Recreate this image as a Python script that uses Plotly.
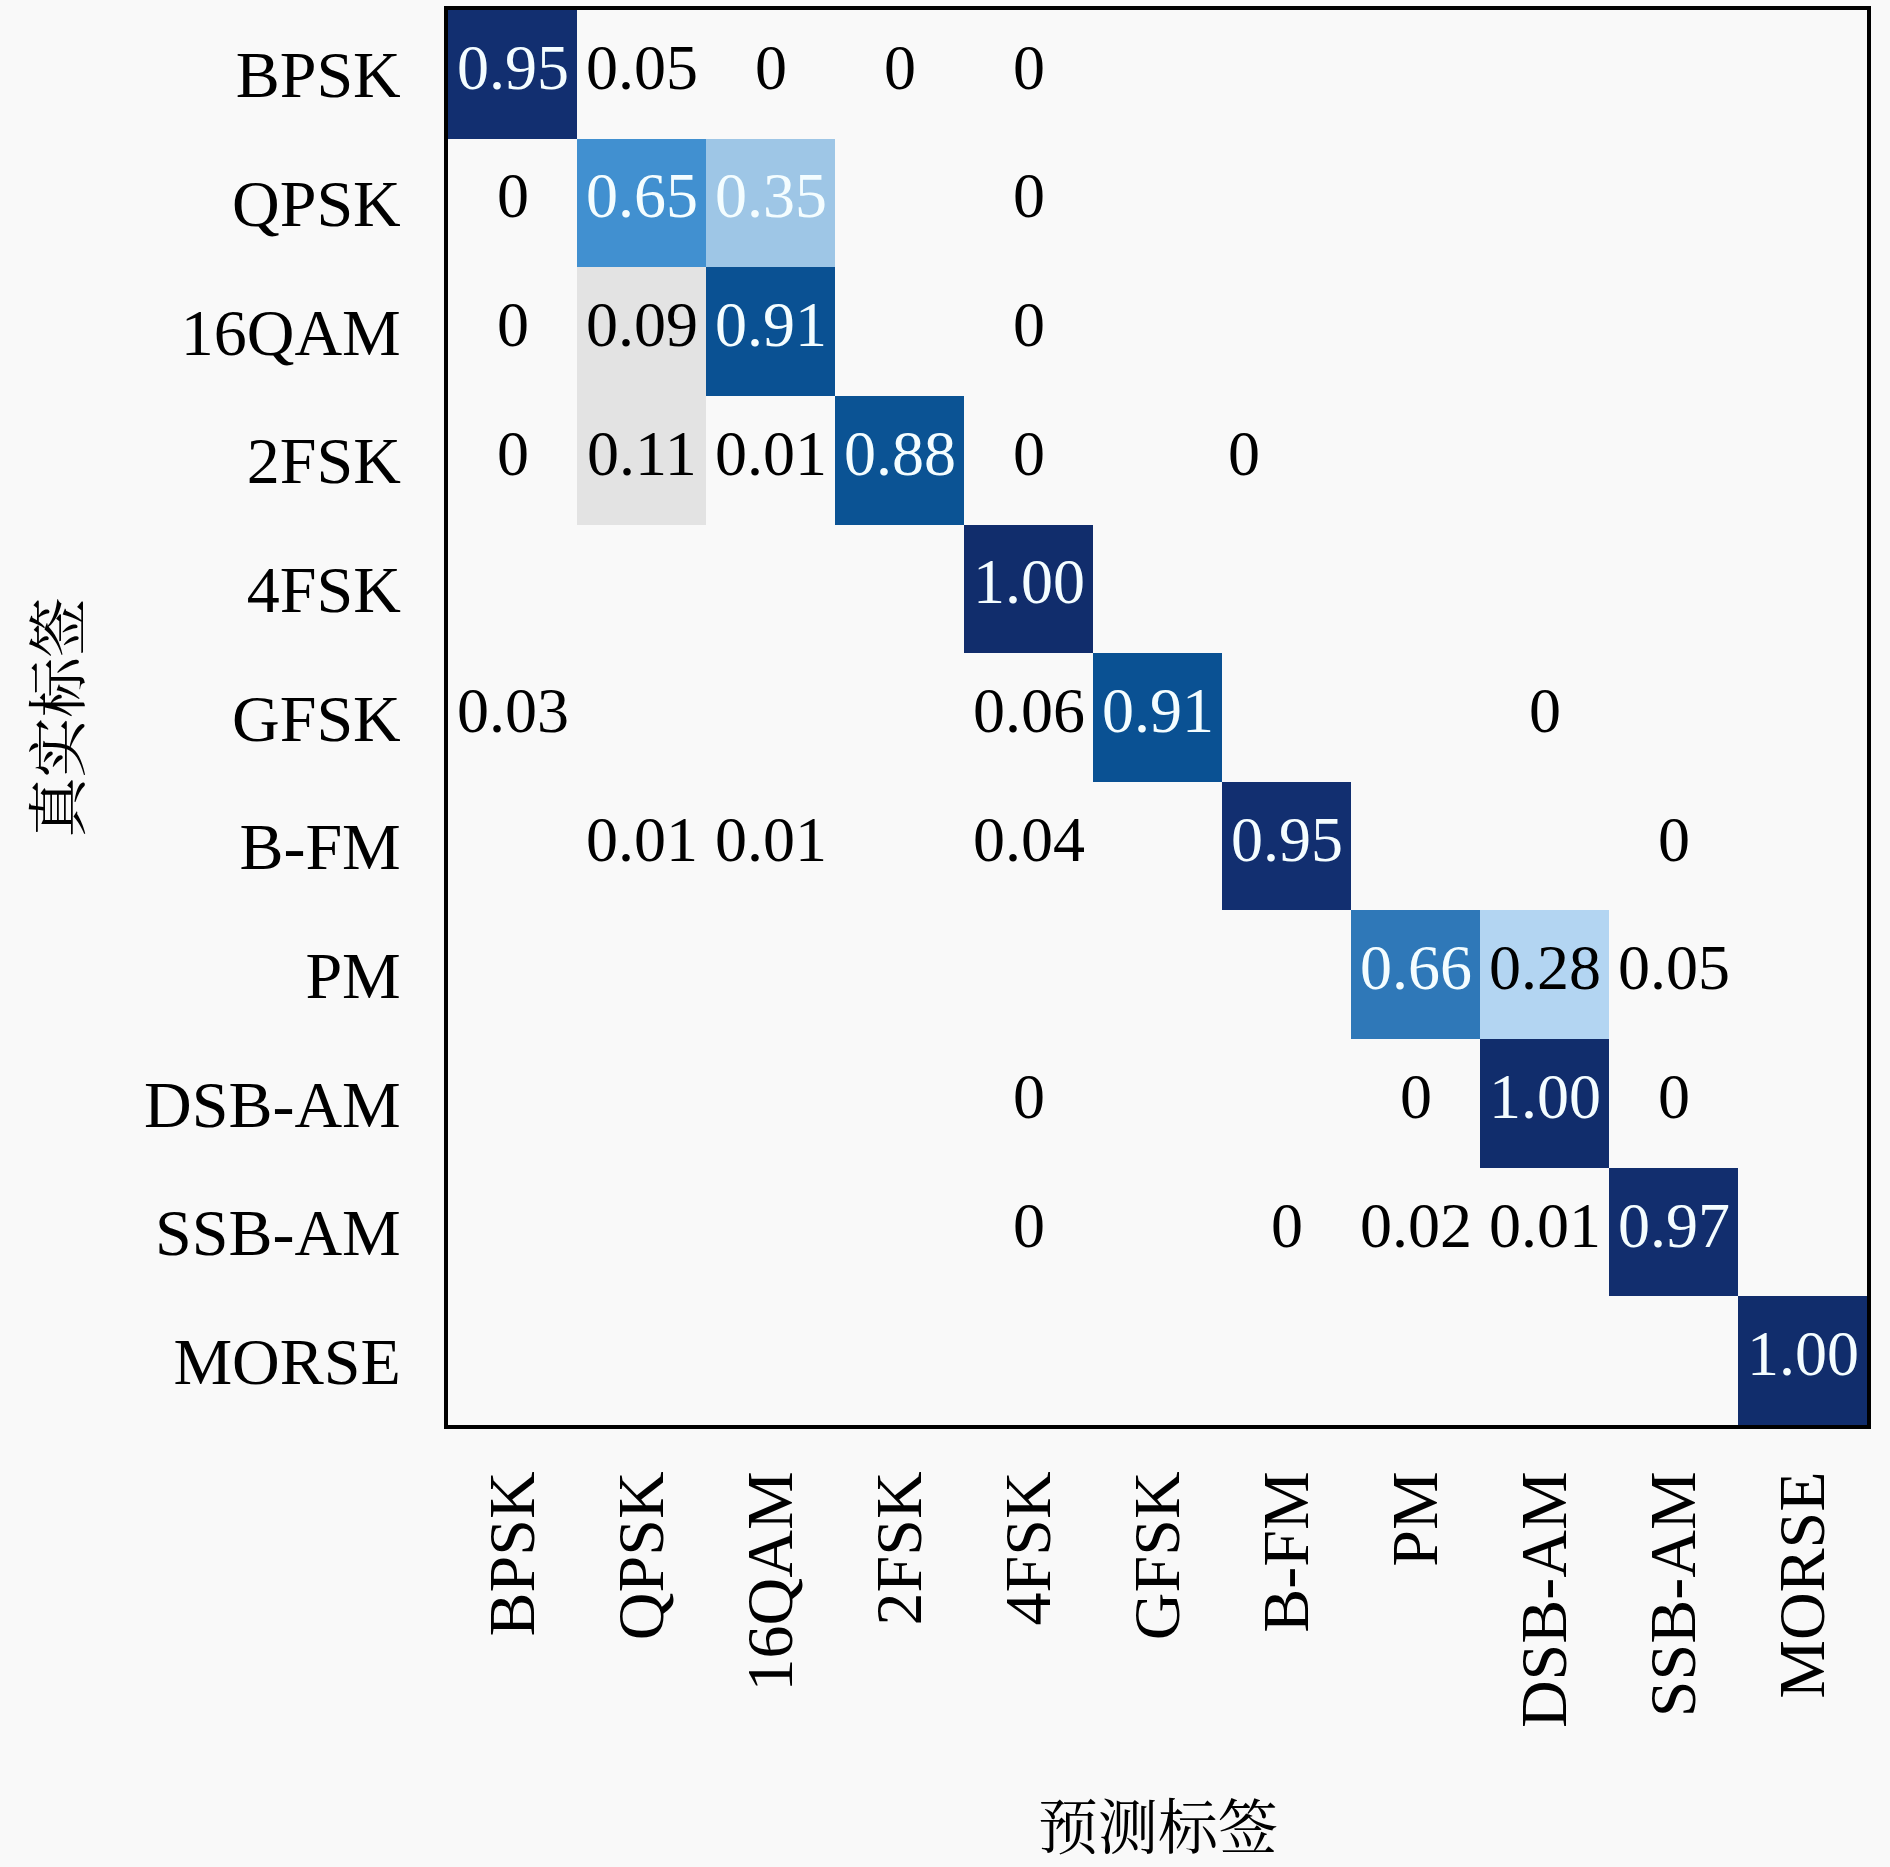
import plotly.graph_objects as go

labels = ["BPSK", "QPSK", "16QAM", "2FSK", "4FSK", "GFSK",
          "B-FM", "PM", "DSB-AM", "SSB-AM", "MORSE"]

# rows = true label, cols = predicted label; None = empty cell
N = None
conf = [
    [0.95, 0.05, 0,    0,    0,    N,    N,    N,    N,    N,    N],
    [0,    0.65, 0.35, N,    0,    N,    N,    N,    N,    N,    N],
    [0,    0.09, 0.91, N,    0,    N,    N,    N,    N,    N,    N],
    [0,    0.11, 0.01, 0.88, 0,    N,    0,    N,    N,    N,    N],
    [N,    N,    N,    N,    1.00, N,    N,    N,    N,    N,    N],
    [0.03, N,    N,    N,    0.06, 0.91, N,    N,    0,    N,    N],
    [N,    0.01, 0.01, N,    0.04, N,    0.95, N,    N,    0,    N],
    [N,    N,    N,    N,    N,    N,    N,    0.66, 0.28, 0.05, N],
    [N,    N,    N,    N,    0,    N,    N,    0,    1.00, 0,    N],
    [N,    N,    N,    N,    0,    N,    0,    0.02, 0.01, 0.97, N],
    [N,    N,    N,    N,    N,    N,    N,    N,    N,    N,    1.00],
]

bg = "#f9f9f9"
cscale = [
    [0.00, bg], [0.07, bg],
    [0.08, "#e3e3e3"], [0.15, "#e3e3e3"],
    [0.28, "#b3d5f2"], [0.35, "#9ec6e6"],
    [0.65, "#4190d0"], [0.66, "#2f78b8"],
    [0.88, "#0b5394"], [0.91, "#0a5193"],
    [0.93, "#0f3a7c"], [0.95, "#122f70"],
    [1.00, "#112d6c"],
]

n = len(labels)
fig = go.Figure(go.Heatmap(
    z=conf, x=list(range(n)), y=list(range(n)),
    colorscale=cscale, zmin=0, zmax=1,
    showscale=False, hoverinfo="skip", xgap=0, ygap=0,
))

serif = "Liberation Serif, Times New Roman, serif"
cjk = "Noto Serif CJK SC, Noto Sans CJK SC, sans-serif"

# the stray zero in the 2FSK row sits a bit left of its column
shifts = {(3, 6): -43}

for i, row in enumerate(conf):
    for j, v in enumerate(row):
        if v is None:
            continue
        txt = "0" if v == 0 else f"{v:.2f}"
        fig.add_annotation(
            x=j, y=i, text=txt, showarrow=False,
            xshift=shifts.get((i, j), 0), yshift=7,
            font=dict(family=serif, size=64,
                      color="#f4fdff" if v >= 0.3 else "black"),
        )

fig.add_annotation(x=0.5, y=-0.281, xref="paper", yref="paper",
                   text="预测标签", showarrow=False,
                   xanchor="center", yanchor="middle",
                   font=dict(family=cjk, size=60, color="black"))
fig.add_annotation(x=-0.2777, y=0.5, xref="paper", yref="paper",
                   text="真实标签", showarrow=False, textangle=-90,
                   xanchor="center", yanchor="middle",
                   font=dict(family=cjk, size=60, color="black"))

axis_common = dict(
    tickvals=list(range(n)), ticktext=labels,
    showgrid=False, zeroline=False,
    showline=True, mirror=True, linecolor="black", linewidth=4,
    ticks="",
    tickfont=dict(family=serif, size=66, color="black"),
)

fig.update_layout(
    width=1890, height=1867,
    margin=dict(l=448, r=23, t=6, b=442),
    paper_bgcolor=bg, plot_bgcolor=bg,
    xaxis=dict(range=[-0.5, n - 0.5], tickangle=-90,
               ticklabelstandoff=16, **axis_common),
    yaxis=dict(range=[n - 0.5, -0.5], ticklabelstandoff=30, **axis_common),
)

fig.write_html("out.html", config={"displayModeBar": False},
               post_script="document.body.style.margin='0';")
